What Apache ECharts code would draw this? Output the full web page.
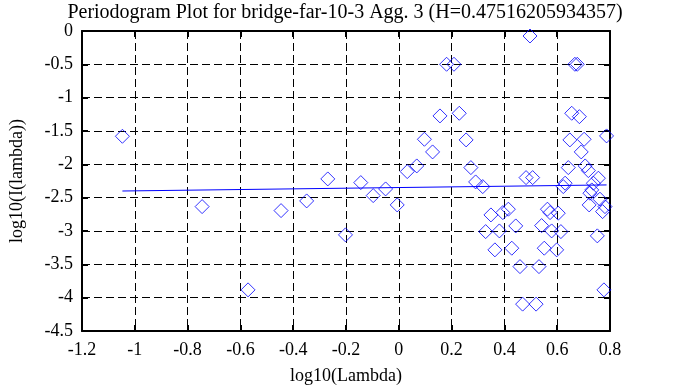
<!DOCTYPE html>
<html>
<head>
<meta charset="utf-8">
<script src="https://cdn.jsdelivr.net/npm/echarts@6/dist/echarts.min.js"></script>
<style>html,body{margin:0;padding:0;background:#fff;}#c{width:673px;height:387px;}</style>
</head>
<body>
<div id="c"></div>
<script>
const titleText = 'Periodogram Plot for bridge-far-10-3 Agg. 3 (H=0.47516205934357)';
const xName = 'log10(Lambda)';
const yName = 'log10(I(lambda))';
const xTicks = ['-1.2','-1','-0.8','-0.6','-0.4','-0.2','0','0.2','0.4','0.6','0.8'];
const yTicks = ['-4.5','-4','-3.5','-3','-2.5','-2','-1.5','-1','-0.5','0'];

const ptX = [-1.047,-0.745,-0.571,-0.446,-0.349,-0.269,-0.202,-0.144,-0.097,-0.050,
  -0.006,0.032,0.068,0.097,0.128,0.156,0.181,0.209,0.229,0.255,
  0.273,0.291,0.318,0.329,0.349,0.364,0.381,0.394,0.415,0.428,
  0.443,0.459,0.469,0.482,0.497,0.507,0.520,0.531,0.541,0.551,
  0.563,0.573,0.579,0.598,0.604,0.614,0.623,0.630,0.642,0.648,
  0.655,0.667,0.676,0.684,0.691,0.702,0.706,0.718,0.721,0.724,
  0.731,0.737,0.752,0.756,0.762,0.772,0.777,0.781,0.787];
const ptY = [-1.579,-2.634,-3.883,-2.694,-2.549,-2.219,-3.058,-2.274,-2.469,-2.369,
  -2.609,-2.109,-2.024,-1.624,-1.814,-1.274,-0.499,-0.499,-1.234,-1.634,
  -2.049,-2.264,-2.334,-3.009,-2.759,-3.283,-2.999,-2.724,-2.673,-3.258,
  -2.924,-3.534,-4.097,-2.199,-0.075,-2.199,-4.097,-3.534,-2.919,-3.258,
  -2.673,-2.724,-2.999,-3.283,-2.733,-3.009,-2.334,-2.283,-2.049,-1.634,
  -1.234,-0.499,-0.499,-1.285,-1.814,-1.624,-2.024,-2.094,-2.609,-2.433,
  -2.384,-2.283,-3.073,-2.208,-2.523,-2.709,-3.883,-2.634,-1.574];

const fitX = [-1.047, 0.787];
const fitY = [-2.400, -2.309];

const font = 'Liberation Serif';
const scatterData = ptX.map((x,i)=>[x, ptY[i]]);
const lineData = fitX.map((x,i)=>[x, fitY[i]]);

const fmt = arr => (v => { const s = parseFloat(v.toFixed(1)).toString(); return arr.indexOf(s) >= 0 ? s : ''; });

const axisCommon = {
  axisLine: {show: true, onZero: false, lineStyle: {color: '#000', width: 2}},
  axisTick: {show: true, inside: true, length: 6, lineStyle: {color: '#000', width: 2}},
};

const chart = echarts.init(document.getElementById('c'), null, {renderer: 'canvas'});
chart.setOption({
  animation: false,
  backgroundColor: '#fff',
  title: {
    text: titleText, left: 340, top: -2, textAlign: 'center',
    textStyle: {fontFamily: font, fontWeight: 'normal', fontSize: 20, color: '#000'}
  },
  grid: {left: 82, right: 63, top: 31, bottom: 56, outerBoundsMode: 'none', containLabel: false},
  xAxis: [
    Object.assign({
      type: 'value', min: -1.2, max: 0.8, interval: 0.2, position: 'bottom',
      name: xName, nameLocation: 'middle', nameGap: 36,
      nameTextStyle: {fontFamily: font, fontSize: 18, color: '#000'},
      axisLabel: {fontFamily: font, fontSize: 18, color: '#000', margin: 10, formatter: fmt(xTicks)},
      splitLine: {show: true, lineStyle: {color: '#000', width: 1, type: [8, 4]}}
    }, axisCommon),
    Object.assign({
      type: 'value', min: -1.2, max: 0.8, interval: 0.2, position: 'top',
      axisLabel: {show: false}, splitLine: {show: false}
    }, axisCommon)
  ],
  yAxis: [
    Object.assign({
      type: 'value', min: -4.5, max: 0, interval: 0.5, position: 'left',
      name: yName, nameLocation: 'middle', nameGap: 56,
      nameTextStyle: {fontFamily: font, fontSize: 18, color: '#000'},
      axisLabel: {fontFamily: font, fontSize: 18, color: '#000', margin: 9, padding: [6, 0, 0, 0], formatter: fmt(yTicks)},
      splitLine: {show: true, lineStyle: {color: '#000', width: 1, type: [8, 4]}}
    }, axisCommon),
    Object.assign({
      type: 'value', min: -4.5, max: 0, interval: 0.5, position: 'right',
      axisLabel: {show: false}, splitLine: {show: false}
    }, axisCommon)
  ],
  series: [
    {
      type: 'line', data: lineData, xAxisIndex: 0, yAxisIndex: 0,
      showSymbol: false, symbol: 'none',
      lineStyle: {color: '#0000ff', width: 1}, z: 3
    },
    {
      type: 'scatter', data: scatterData, xAxisIndex: 0, yAxisIndex: 0,
      symbol: 'diamond', symbolSize: 14,
      itemStyle: {color: 'rgba(0,0,0,0)', borderColor: '#0000ff', borderWidth: 1},
      z: 4
    }
  ]
});
</script>
</body>
</html>
